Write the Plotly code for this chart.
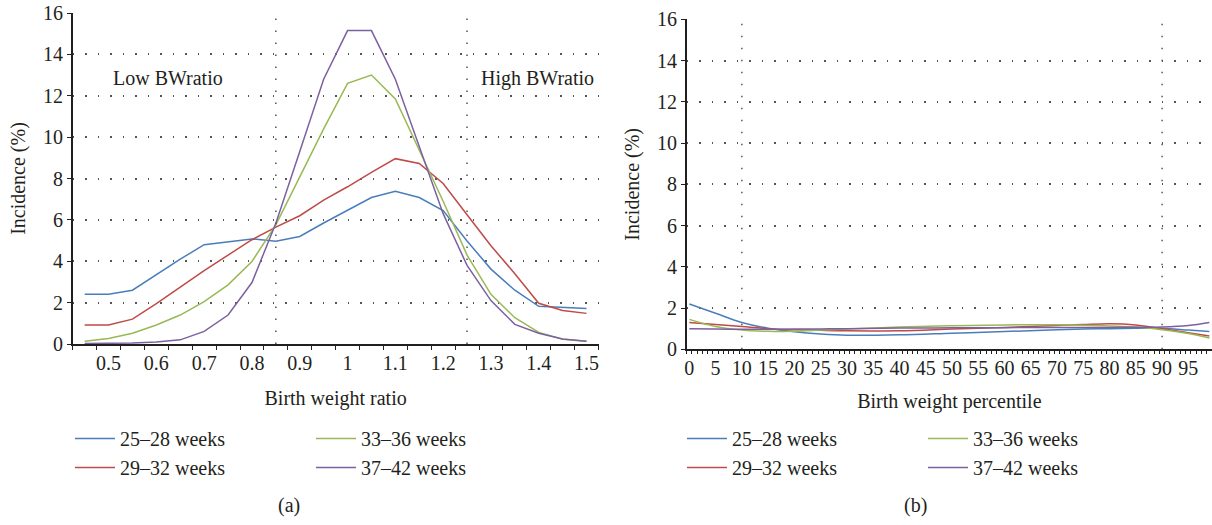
import plotly.graph_objects as go

# ---------------- data ----------------
series_names = ["25–28 weeks", "29–32 weeks", "33–36 weeks", "37–42 weeks"]
series_colors = ["#4a7ebb", "#be4b48", "#98b954", "#7d60a0"]

# Panel (a): incidence (%) by birth weight ratio
bw_ratio = [0.45, 0.5, 0.55, 0.6, 0.65, 0.7, 0.75, 0.8, 0.85, 0.9, 0.95,
            1.0, 1.05, 1.1, 1.15, 1.2, 1.25, 1.3, 1.35, 1.4, 1.45, 1.5]
a_25_28 = [2.4, 2.4, 2.6, 3.35, 4.1, 4.8, 4.95, 5.08, 4.97, 5.2, 5.85,
           6.45, 7.08, 7.38, 7.08, 6.45, 4.98, 3.62, 2.6, 1.82, 1.76, 1.71]
a_29_32 = [0.92, 0.92, 1.2, 1.95, 2.75, 3.55, 4.3, 5.04, 5.65, 6.2, 6.95,
           7.6, 8.3, 8.96, 8.73, 7.76, 6.25, 4.75, 3.4, 1.97, 1.62, 1.48]
a_33_36 = [0.13, 0.27, 0.52, 0.92, 1.4, 2.05, 2.86, 3.99, 5.76, 8.1, 10.4,
           12.6, 13.0, 11.85, 9.4, 6.9, 4.3, 2.4, 1.27, 0.56, 0.23, 0.13]
a_37_42 = [0.02, 0.03, 0.05, 0.1, 0.2, 0.61, 1.4, 2.97, 5.84, 9.3, 12.8,
           15.15, 15.15, 12.8, 9.5, 6.3, 3.8, 2.1, 0.95, 0.52, 0.24, 0.13]
bw_ratio_ticks = [0.5, 0.6, 0.7, 0.8, 0.9, 1.0, 1.1, 1.2, 1.3, 1.4, 1.5]
bw_ratio_ticktext = ["0.5", "0.6", "0.7", "0.8", "0.9", "1", "1.1", "1.2", "1.3", "1.4", "1.5"]
bw_cutoffs = [0.85, 1.25]

# Panel (b): incidence (%) by birth weight percentile
pct = [0, 5, 10, 15, 20, 25, 30, 40, 50, 60, 70, 75, 80, 85, 90, 95, 99]
b_25_28 = [2.2, 1.75, 1.3, 1.02, 0.85, 0.74, 0.68, 0.70, 0.78, 0.86, 0.95, 0.98, 1.0, 1.02, 1.02, 0.93, 0.86]
b_29_32 = [1.3, 1.2, 1.1, 1.0, 0.95, 0.92, 0.9, 0.9, 0.98, 1.06, 1.15, 1.2, 1.24, 1.18, 1.0, 0.8, 0.65]
b_33_36 = [1.45, 1.1, 0.93, 0.87, 0.88, 0.93, 0.98, 1.08, 1.14, 1.18, 1.19, 1.17, 1.13, 1.08, 0.95, 0.77, 0.55]
b_37_42 = [1.0, 0.98, 0.97, 0.97, 0.98, 0.99, 1.0, 1.03, 1.04, 1.05, 1.06, 1.06, 1.06, 1.07, 1.08, 1.15, 1.3]
pct_ticks = list(range(0, 100, 5))
pct_cutoffs = [10, 90]

y_ticks = [0, 2, 4, 6, 8, 10, 12, 14, 16]

# ---------------- figure ----------------
FONT = "Liberation Serif, Noto Serif, DejaVu Serif, serif"
TXT = "#231f20"
FS = 20
W, H = 1212, 525

fig = go.Figure()
a_vals = [a_25_28, a_29_32, a_33_36, a_37_42]
b_vals = [b_25_28, b_29_32, b_33_36, b_37_42]
groups = ["g1", "g1", "g2", "g2"]

for name, vals, col, g in zip(series_names, a_vals, series_colors, groups):
    fig.add_trace(go.Scatter(x=bw_ratio, y=vals, mode="lines", name=name,
                             line=dict(color=col, width=1.5),
                             xaxis="x", yaxis="y", legend="legend",
                             legendgroup="a" + g))
for name, vals, col, g in zip(series_names, b_vals, series_colors, groups):
    fig.add_trace(go.Scatter(x=pct, y=vals, mode="lines", name=name,
                             line=dict(color=col, width=1.5, shape="spline", smoothing=1.0),
                             xaxis="x2", yaxis="y2", legend="legend2",
                             legendgroup="b" + g))

grid = dict(showgrid=True, gridcolor="#555555", gridwidth=1.5, griddash="1.5px,11px")
yax_common = dict(range=[0, 16], tickvals=y_ticks, ticks="outside", ticklen=4,
                  tickwidth=1.2, tickcolor=TXT, showline=True, linecolor=TXT,
                  linewidth=1.5, zeroline=False, fixedrange=True,
                  tickfont=dict(family=FONT, size=FS, color=TXT),
                  title=dict(text="Incidence (%)", font=dict(family=FONT, size=FS, color=TXT),
                             standoff=12),
                  automargin=False, **grid)

half_a = 0.025
fig.update_layout(
    width=W, height=H,
    margin=dict(l=0, r=0, t=0, b=0),
    paper_bgcolor="white", plot_bgcolor="white",
    font=dict(family=FONT, size=FS, color=TXT),
    showlegend=True,
    xaxis=dict(domain=[72.7 / W, 598.5 / W], range=[bw_ratio[0] - half_a, bw_ratio[-1] + half_a],
               tickvals=bw_ratio_ticks, ticktext=bw_ratio_ticktext, ticks="",
               minor=dict(ticks="outside", tickmode="linear", tick0=bw_ratio[0] - half_a,
                          dtick=0.05, ticklen=4, tickwidth=1.2, tickcolor=TXT, showgrid=False),
               showline=True, linecolor=TXT, linewidth=1.5, showgrid=False, zeroline=False,
               fixedrange=True,
               tickfont=dict(family=FONT, size=FS, color=TXT),
               title=dict(text="Birth weight ratio", font=dict(family=FONT, size=FS, color=TXT),
                          standoff=18),
               automargin=False, anchor="y"),
    yaxis=dict(domain=[(H - 344) / H, (H - 13) / H], anchor="x", **yax_common),
    xaxis2=dict(domain=[686.7 / W, 1.0], range=[-0.5, 99.5],
                tickvals=pct_ticks, ticktext=[str(v) for v in pct_ticks], ticks="",
                minor=dict(ticks="outside", tickmode="linear", tick0=-0.5, dtick=1,
                           ticklen=3, tickwidth=1, tickcolor=TXT, showgrid=False),
                showline=True, linecolor=TXT, linewidth=1.5, showgrid=False, zeroline=False,
                fixedrange=True,
                tickfont=dict(family=FONT, size=FS, color=TXT),
                title=dict(text="Birth weight percentile", font=dict(family=FONT, size=FS, color=TXT),
                           standoff=16),
                automargin=False, anchor="y2"),
    yaxis2=dict(domain=[(H - 349.3) / H, (H - 19.3) / H], anchor="x2", **yax_common),
    legend=dict(orientation="h", traceorder="grouped", tracegroupgap=0,
                x=70 / W, xanchor="left", y=(H - 419) / H, yanchor="top",
                font=dict(family=FONT, size=FS, color=TXT), itemwidth=40,
                entrywidth=186, bgcolor="rgba(0,0,0,0)"),
    legend2=dict(orientation="h", traceorder="grouped", tracegroupgap=0,
                 x=682 / W, xanchor="left", y=(H - 419) / H, yanchor="top",
                 font=dict(family=FONT, size=FS, color=TXT), itemwidth=40,
                 entrywidth=186, bgcolor="rgba(0,0,0,0)"),
)

shapes = []
for c in bw_cutoffs:
    shapes.append(dict(type="line", xref="x", yref="y", x0=c, x1=c, y0=0, y1=16,
                       line=dict(color="#555555", width=1.5, dash="1.5px,10.5px")))
for c in pct_cutoffs:
    shapes.append(dict(type="line", xref="x2", yref="y2", x0=c, x1=c, y0=0, y1=16,
                       line=dict(color="#555555", width=1.5, dash="1.5px,10.5px")))
fig.update_layout(shapes=shapes)

annotations = [
    dict(text="Low BWratio", xref="x", yref="y", x=0.625, y=12.85, showarrow=False,
         xanchor="center", yanchor="middle", font=dict(family=FONT, size=FS, color=TXT)),
    dict(text="High BWratio", xref="x", yref="y", x=1.398, y=12.85, showarrow=False,
         xanchor="center", yanchor="middle", font=dict(family=FONT, size=FS, color=TXT)),
    dict(text="(a)", xref="paper", yref="paper", x=289 / W, y=(H - 505) / H, showarrow=False,
         xanchor="center", yanchor="middle", font=dict(family=FONT, size=FS, color=TXT)),
    dict(text="(b)", xref="paper", yref="paper", x=915 / W, y=(H - 505) / H, showarrow=False,
         xanchor="center", yanchor="middle", font=dict(family=FONT, size=FS, color=TXT)),
]
fig.update_layout(annotations=annotations)

fig.write_html("out.html",
               config={"displayModeBar": False, "staticPlot": False},
               post_script="document.body.style.margin='0';document.body.style.overflow='hidden';")
